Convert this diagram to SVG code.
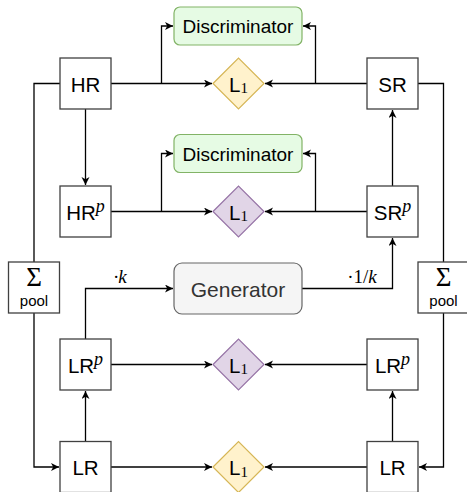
<svg xmlns="http://www.w3.org/2000/svg" width="467" height="492" viewBox="0 0 467 492">
<defs>
<marker id="arr" markerUnits="userSpaceOnUse" markerWidth="10" markerHeight="10" refX="8" refY="4" orient="auto">
<path d="M0,0 L8,4 L0,8 L2.2,4 Z" fill="#000"/>
</marker>
<style>
.box{fill:#fff;stroke:#404040;stroke-width:1.3}
.disc{fill:#e6fbe4;stroke:#82b366;stroke-width:1.2}
.gen{fill:#f5f5f5;stroke:#666;stroke-width:1.2}
.yel{fill:#fff2cc;stroke:#d6b656;stroke-width:1.2}
.pur{fill:#e1d5e7;stroke:#9673a6;stroke-width:1.2}
.t{font-family:"Liberation Sans",Arial,sans-serif;fill:#000;text-anchor:middle;dominant-baseline:central}
.b{font-size:20.5px}
.d{font-size:19px}
.m{font-family:"Liberation Serif","Times New Roman",serif;font-style:italic}
.s{font-family:"Liberation Serif","Times New Roman",serif;font-style:normal}
.sup{font-size:18px}
.sub{font-size:15px}
.c{fill:none;stroke:#000;stroke-width:1.3}
.ca{fill:none;stroke:#000;stroke-width:1.3;marker-end:url(#arr)}
</style>
</defs>
<g id="connectors">
<path class="ca" d="M111,83.5 H212"/>
<path class="ca" d="M161.5,83.5 V26 H173"/>
<path class="ca" d="M367,83.5 H265"/>
<path class="ca" d="M315.5,83.5 V26 H303"/>
<path class="c" d="M60,83.5 H34 V262"/>
<path class="ca" d="M34,313 V467 H59"/>
<path class="ca" d="M85.5,109 V185"/>
<path class="ca" d="M111,211.5 H212"/>
<path class="ca" d="M161.5,211.5 V153.5 H173"/>
<path class="ca" d="M367,211.5 H265"/>
<path class="ca" d="M315.5,211.5 V153.5 H303"/>
<path class="ca" d="M392.5,186 V110"/>
<path class="c" d="M418,83.5 H443.5 V262"/>
<path class="ca" d="M443.5,313 V467 H419"/>
<path class="ca" d="M85.5,339 V288.5 H173"/>
<path class="ca" d="M302,288.5 H392.5 V238"/>
<path class="ca" d="M85.5,441.5 V391"/>
<path class="ca" d="M392.5,441.5 V391"/>
<path class="ca" d="M111,364.5 H212"/>
<path class="ca" d="M367,364.5 H265"/>
<path class="ca" d="M111,467 H212"/>
<path class="ca" d="M367,467 H265"/>
<text class="t m" x="120" y="276" style="font-size:19px">·k</text>
<text class="t m" x="362" y="276" style="font-size:19px"><tspan class="s">·1/</tspan>k</text>
</g>
<g id="HR"><rect class="box" x="60" y="58" width="51" height="51"/><text class="t b" x="85.5" y="84">HR</text></g>
<g id="SR"><rect class="box" x="367" y="58" width="51" height="51"/><text class="t b" x="392.5" y="84">SR</text></g>
<g id="disc1"><rect class="disc" x="174" y="7" width="128" height="38" rx="6"/><text class="t d" x="238" y="26.5">Discriminator</text></g>
<g id="L1a"><polygon class="yel" points="213,83.5 238.5,58 264,83.5 238.5,109"/><text class="t b" x="238.5" y="84">L<tspan class="s sub" dy="4">1</tspan></text></g>
<g id="HRp"><rect class="box" x="60" y="186" width="51" height="51"/><text class="t b" x="85.5" y="212">HR<tspan class="m sup" dy="-6">p</tspan></text></g>
<g id="SRp"><rect class="box" x="367" y="186" width="51" height="51"/><text class="t b" x="392.5" y="212">SR<tspan class="m sup" dy="-6">p</tspan></text></g>
<g id="disc2"><rect class="disc" x="174" y="134.5" width="128" height="38" rx="6"/><text class="t d" x="238" y="154">Discriminator</text></g>
<g id="L1b"><polygon class="pur" points="213,211.5 238.5,186 264,211.5 238.5,237"/><text class="t b" x="238.5" y="212">L<tspan class="s sub" dy="4">1</tspan></text></g>
<g id="poolL"><rect class="box" x="8.5" y="262" width="51" height="51"/><text class="t s" x="34" y="277" style="font-size:27px">Σ</text><text class="t" x="34" y="300.5" style="font-size:15px">pool</text></g>
<g id="poolR"><rect class="box" x="418" y="262" width="51" height="51"/><text class="t s" x="443.5" y="277" style="font-size:27px">Σ</text><text class="t" x="443.5" y="300.5" style="font-size:15px">pool</text></g>
<g id="generator"><rect class="gen" x="174" y="263" width="128" height="51" rx="8"/><text class="t" x="238" y="289" style="fill:#333;font-size:21px">Generator</text></g>
<g id="LRpL"><rect class="box" x="60" y="339" width="51" height="51"/><text class="t b" x="85.5" y="365">LR<tspan class="m sup" dy="-6">p</tspan></text></g>
<g id="LRpR"><rect class="box" x="367" y="339" width="51" height="51"/><text class="t b" x="392.5" y="365">LR<tspan class="m sup" dy="-6">p</tspan></text></g>
<g id="L1c"><polygon class="pur" points="213,364.5 238.5,339 264,364.5 238.5,390"/><text class="t b" x="238.5" y="365">L<tspan class="s sub" dy="4">1</tspan></text></g>
<g id="LRL"><rect class="box" x="60" y="441.5" width="51" height="51"/><text class="t b" x="85.5" y="467.5">LR</text></g>
<g id="LRR"><rect class="box" x="367" y="441.5" width="51" height="51"/><text class="t b" x="392.5" y="467.5">LR</text></g>
<g id="L1d"><polygon class="yel" points="213,467 238.5,441.5 264,467 238.5,492.5"/><text class="t b" x="238.5" y="467.5">L<tspan class="s sub" dy="4">1</tspan></text></g>
</svg>
